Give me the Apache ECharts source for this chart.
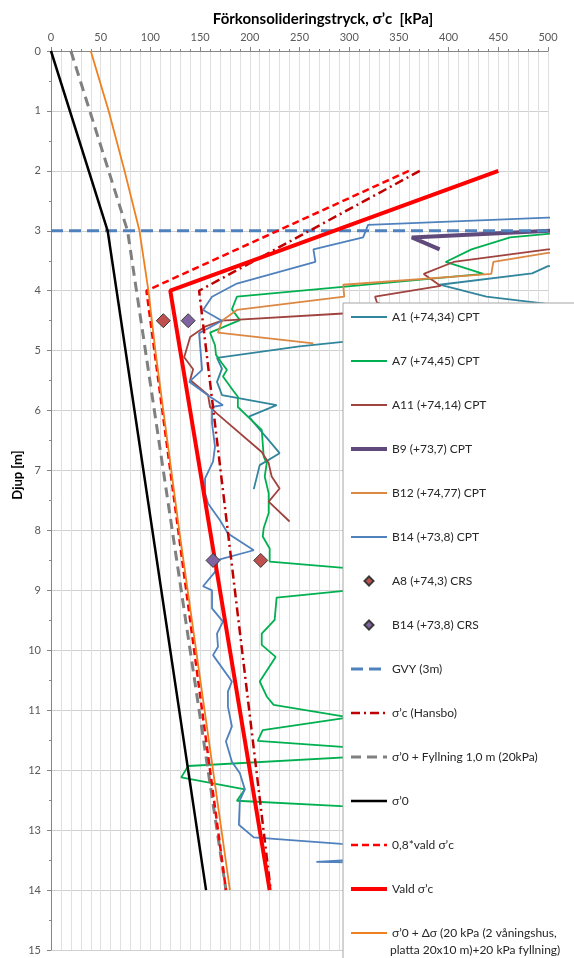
<!DOCTYPE html>
<html>
<head>
<meta charset="utf-8">
<script src="https://cdn.jsdelivr.net/npm/echarts@6/dist/echarts.min.js"></script>
<style>
  html, body { margin: 0; padding: 0; background: #ffffff; }
  #chart { width: 574px; height: 958px; }
</style>
</head>
<body>
<div id="chart"></div>
<script>
// Axis ticks: pressure (kPa) along the top, depth (m) downwards
const pressureTicks = [0, 50, 100, 150, 200, 250, 300, 350, 400, 450, 500];
const depthTicks = [0, 1, 2, 3, 4, 5, 6, 7, 8, 9, 10, 11, 12, 13, 14, 15];

// Each point is [pressure kPa, depth m]
// CPT soundings
const cptA1 = [[560,3.5],[500,3.59],[484,3.71],[391,3.90],[438,4.10],[499,4.22],[560,4.3],[520,4.5],[301,4.84],[250,4.93],[167,5.12],[172,5.30],[167,5.52],[172,5.74],[227,5.91],[199,6.10],[230,6.71],[210,6.91],[204,7.31]];
const cptA7 = [[560,3.0],[500,3.05],[462,3.11],[423,3.31],[397,3.52],[435,3.72],[187,4.10],[182,4.31],[190,4.49],[160,4.70],[165,4.91],[166,5.07],[172,5.21],[177,5.32],[173,5.43],[183,5.66],[188,5.77],[188,5.94],[198,6.10],[212,6.32],[214,6.77],[217,6.88],[215,7.10],[219,7.38],[219,7.71],[214,7.96],[213,8.10],[220,8.30],[220,8.52],[420,8.8],[227,9.12],[225,9.49],[212,9.72],[212,9.91],[226,10.11],[210,10.52],[217,10.77],[224,10.91],[300,11.12],[213,11.33],[208,11.51],[378,11.71],[138,11.93],[131,12.12],[195,12.32],[187,12.51],[292,12.60],[500,12.7]];
const cptA11 = [[560,3.25],[500,3.31],[405,3.52],[375,3.72],[392,3.92],[326,4.10],[328,4.20],[350,4.33],[294,4.38],[172,4.50],[155,4.60],[140,4.77],[134,5.11],[143,5.31],[140,5.49],[158,5.74],[160,5.94],[167,6.05],[212,6.69],[219,6.88],[222,7.10],[230,7.30],[219,7.52],[240,7.85]];
const cptB9 = [[540,2.97],[363,3.11],[391,3.31]];
const cptB12 = [[560,3.25],[500,3.37],[445,3.52],[443,3.72],[294,3.90],[295,4.10],[187,4.32],[172,4.50],[168,4.70],[264,4.88]];
const cptB14 = [[560,2.76],[500,2.78],[319,2.90],[314,3.11],[264,3.31],[266,3.52],[187,3.88],[162,4.10],[153,4.32],[172,4.50],[149,4.71],[152,5.32],[139,5.52],[160,5.77],[173,5.91],[162,5.94],[162,6.21],[165,6.60],[163,6.85],[155,7.13],[155,7.38],[158,7.55],[170,7.83],[178,8.05],[204,8.33],[168,8.49],[165,8.69],[153,8.93],[162,9.0],[162,9.30],[173,9.52],[167,9.72],[168,9.94],[163,10.08],[182,10.52],[178,10.69],[178,10.94],[182,11.27],[176,11.52],[182,11.86],[190,12.05],[195,12.32],[190,12.50],[189,12.91],[204,13.12],[292,13.23],[380,13.28],[380,13.42],[267,13.53],[380,13.56]];

// CRS laboratory results
const crsA8 = [[113,4.5],[211,8.5]];
const crsB14 = [[138,4.5],[163,8.5]];

// Groundwater level
const groundwater = [[0,3],[500,3]];

// Stress profiles
const hansbo = [[371,2],[149,4],[221,14]];
const sigma0Fill = [[20,0],[77,3],[176,14]];
const sigma0 = [[0,0],[57,3],[156,14]];
const chosen08 = [[360,2],[96,4],[176,14]];
const chosen = [[450,2],[120,4],[220,14]];
const sigma0Load = [[40,0],[58,1],[74,2],[89,3],[98,4],[105,5],[113,6],[129,8],[146,10],[163,12],[180,14]];

const FONT = 'Lato, "Noto Sans", "DejaVu Sans", sans-serif';
const LOAD_NAME = 'σ’0 + Δσ (20 kPa (2 våningshus, platta 20x10 m)+20 kPa fyllning)';
const DIAMOND_ICON = 'path://M5,0L10,5L5,10L0,5Z';

function line(name, data, color, width, type) {
  return {
    name: name, type: 'line', data: data,
    symbol: 'none', smooth: false, clip: true,
    lineStyle: { color: color, width: width, type: type || 'solid' },
    itemStyle: { color: color },
    emphasis: { disabled: true },
    z: 2
  };
}
function markers(name, data, color) {
  return {
    name: name, type: 'scatter', data: data,
    symbol: 'diamond', symbolSize: [14, 14],
    itemStyle: { color: color, borderColor: '#3a3a3a', borderWidth: 1, opacity: 1 },
    emphasis: { disabled: true },
    z: 3
  };
}

const series = [
  line('A1 (+74,34) CPT', cptA1, '#31859C', 1.8),
  line('A7 (+74,45) CPT', cptA7, '#00B050', 1.8),
  line('A11 (+74,14) CPT', cptA11, '#A0433F', 1.8),
  line('B9 (+73,7) CPT', cptB9, '#604A7B', 4),
  line('B12 (+74,77) CPT', cptB12, '#DC8742', 1.8),
  line('B14 (+73,8) CPT', cptB14, '#4F81BD', 1.8),
  markers('A8 (+74,3) CRS', crsA8, '#C0504D'),
  markers('B14 (+73,8) CRS', crsB14, '#8064A2'),
  line('GVY (3m)', groundwater, '#4F81BD', 3, [12, 6]),
  line('σ’c (Hansbo)', hansbo, '#C00000', 2.5, [9, 4, 2, 4]),
  line('σ’0 + Fyllning 1,0 m (20kPa)', sigma0Fill, '#808080', 3, [10, 6]),
  line('σ’0', sigma0, '#000000', 2.5),
  line('0,8*vald σ’c', chosen08, '#FF0000', 2.5, [7, 4]),
  line('Vald σ’c', chosen, '#FF0000', 4),
  line(LOAD_NAME, sigma0Load, '#EE8020', 1.8)
];

// Legend entries: plain line samples for lines, small diamonds for markers
const legendEntries = series.map(function (s) {
  if (s.type === 'scatter') {
    return { name: s.name, icon: DIAMOND_ICON };
  }
  return { name: s.name, itemStyle: { opacity: 0, borderWidth: 0 } };
});

const chart = echarts.init(document.getElementById('chart'), null, { renderer: 'canvas' });

chart.setOption({
  animation: false,
  backgroundColor: '#ffffff',
  textStyle: { fontFamily: FONT },
  grid: { left: 51, right: 26, top: 51, bottom: 8, containLabel: false, outerBoundsMode: 'none' },
  xAxis: {
    type: 'value', position: 'top',
    min: pressureTicks[0], max: pressureTicks[pressureTicks.length - 1], interval: 50,
    axisLine: { show: true, lineStyle: { color: '#868686', width: 1 } },
    axisTick: { show: true, length: 4, lineStyle: { color: '#868686' } },
    minorTick: { show: true, splitNumber: 5, length: 2, lineStyle: { color: '#868686' } },
    axisLabel: { color: '#595959', fontSize: 11, margin: 8, fontFamily: FONT },
    splitLine: { show: true, lineStyle: { color: '#E0E0E0', width: 1 } },
    minorSplitLine: { show: true, lineStyle: { color: '#E0E0E0', width: 1 } }
  },
  yAxis: {
    type: 'value', inverse: true,
    min: depthTicks[0], max: depthTicks[depthTicks.length - 1], interval: 1,
    axisLine: { show: true, lineStyle: { color: '#868686', width: 1 } },
    axisTick: { show: true, length: 4, lineStyle: { color: '#868686' } },
    minorTick: { show: true, splitNumber: 2, length: 2, lineStyle: { color: '#868686' } },
    axisLabel: { color: '#595959', fontSize: 11, margin: 10, fontFamily: FONT },
    splitLine: { show: true, lineStyle: { color: '#D0D0D0', width: 1 } }
  },
  legend: {
    orient: 'vertical', left: 343, top: 303, height: 720,
    padding: [7, 120, 40, 6], itemGap: 30, itemWidth: 36, itemHeight: 9,
    symbolKeepAspect: true,
    backgroundColor: '#ffffff', borderColor: '#A6A6A6', borderWidth: 1, borderRadius: 0,
    textStyle: { fontFamily: FONT, fontSize: 12, color: '#262626', lineHeight: 14 },
    lineStyle: { width: 'inherit' },
    selectedMode: false,
    formatter: function (name) {
      return name === LOAD_NAME ? 'σ’0 + Δσ (20 kPa (2 våningshus,' : name;
    },
    data: legendEntries,
    z: 4
  },
  graphic: [
    {
      type: 'text', x: 323, y: 19, z: 10,
      style: { text: 'Förkonsolideringstryck, σ’c  [kPa]', font: 'bold 15px ' + FONT, fill: '#000000', align: 'center', verticalAlign: 'middle' }
    },
    {
      type: 'text', x: 18, y: 475, rotation: Math.PI / 2, z: 10,
      style: { text: 'Djup [m]', font: 'bold 13px ' + FONT, fill: '#000000', align: 'center', verticalAlign: 'middle' }
    },
    {
      type: 'text', x: 390, y: 950, z: 10,
      style: { text: 'platta 20x10 m)+20 kPa fyllning)', font: '12px ' + FONT, fill: '#262626', align: 'left', verticalAlign: 'middle' }
    }
  ],
  series: series
});
</script>
</body>
</html>
